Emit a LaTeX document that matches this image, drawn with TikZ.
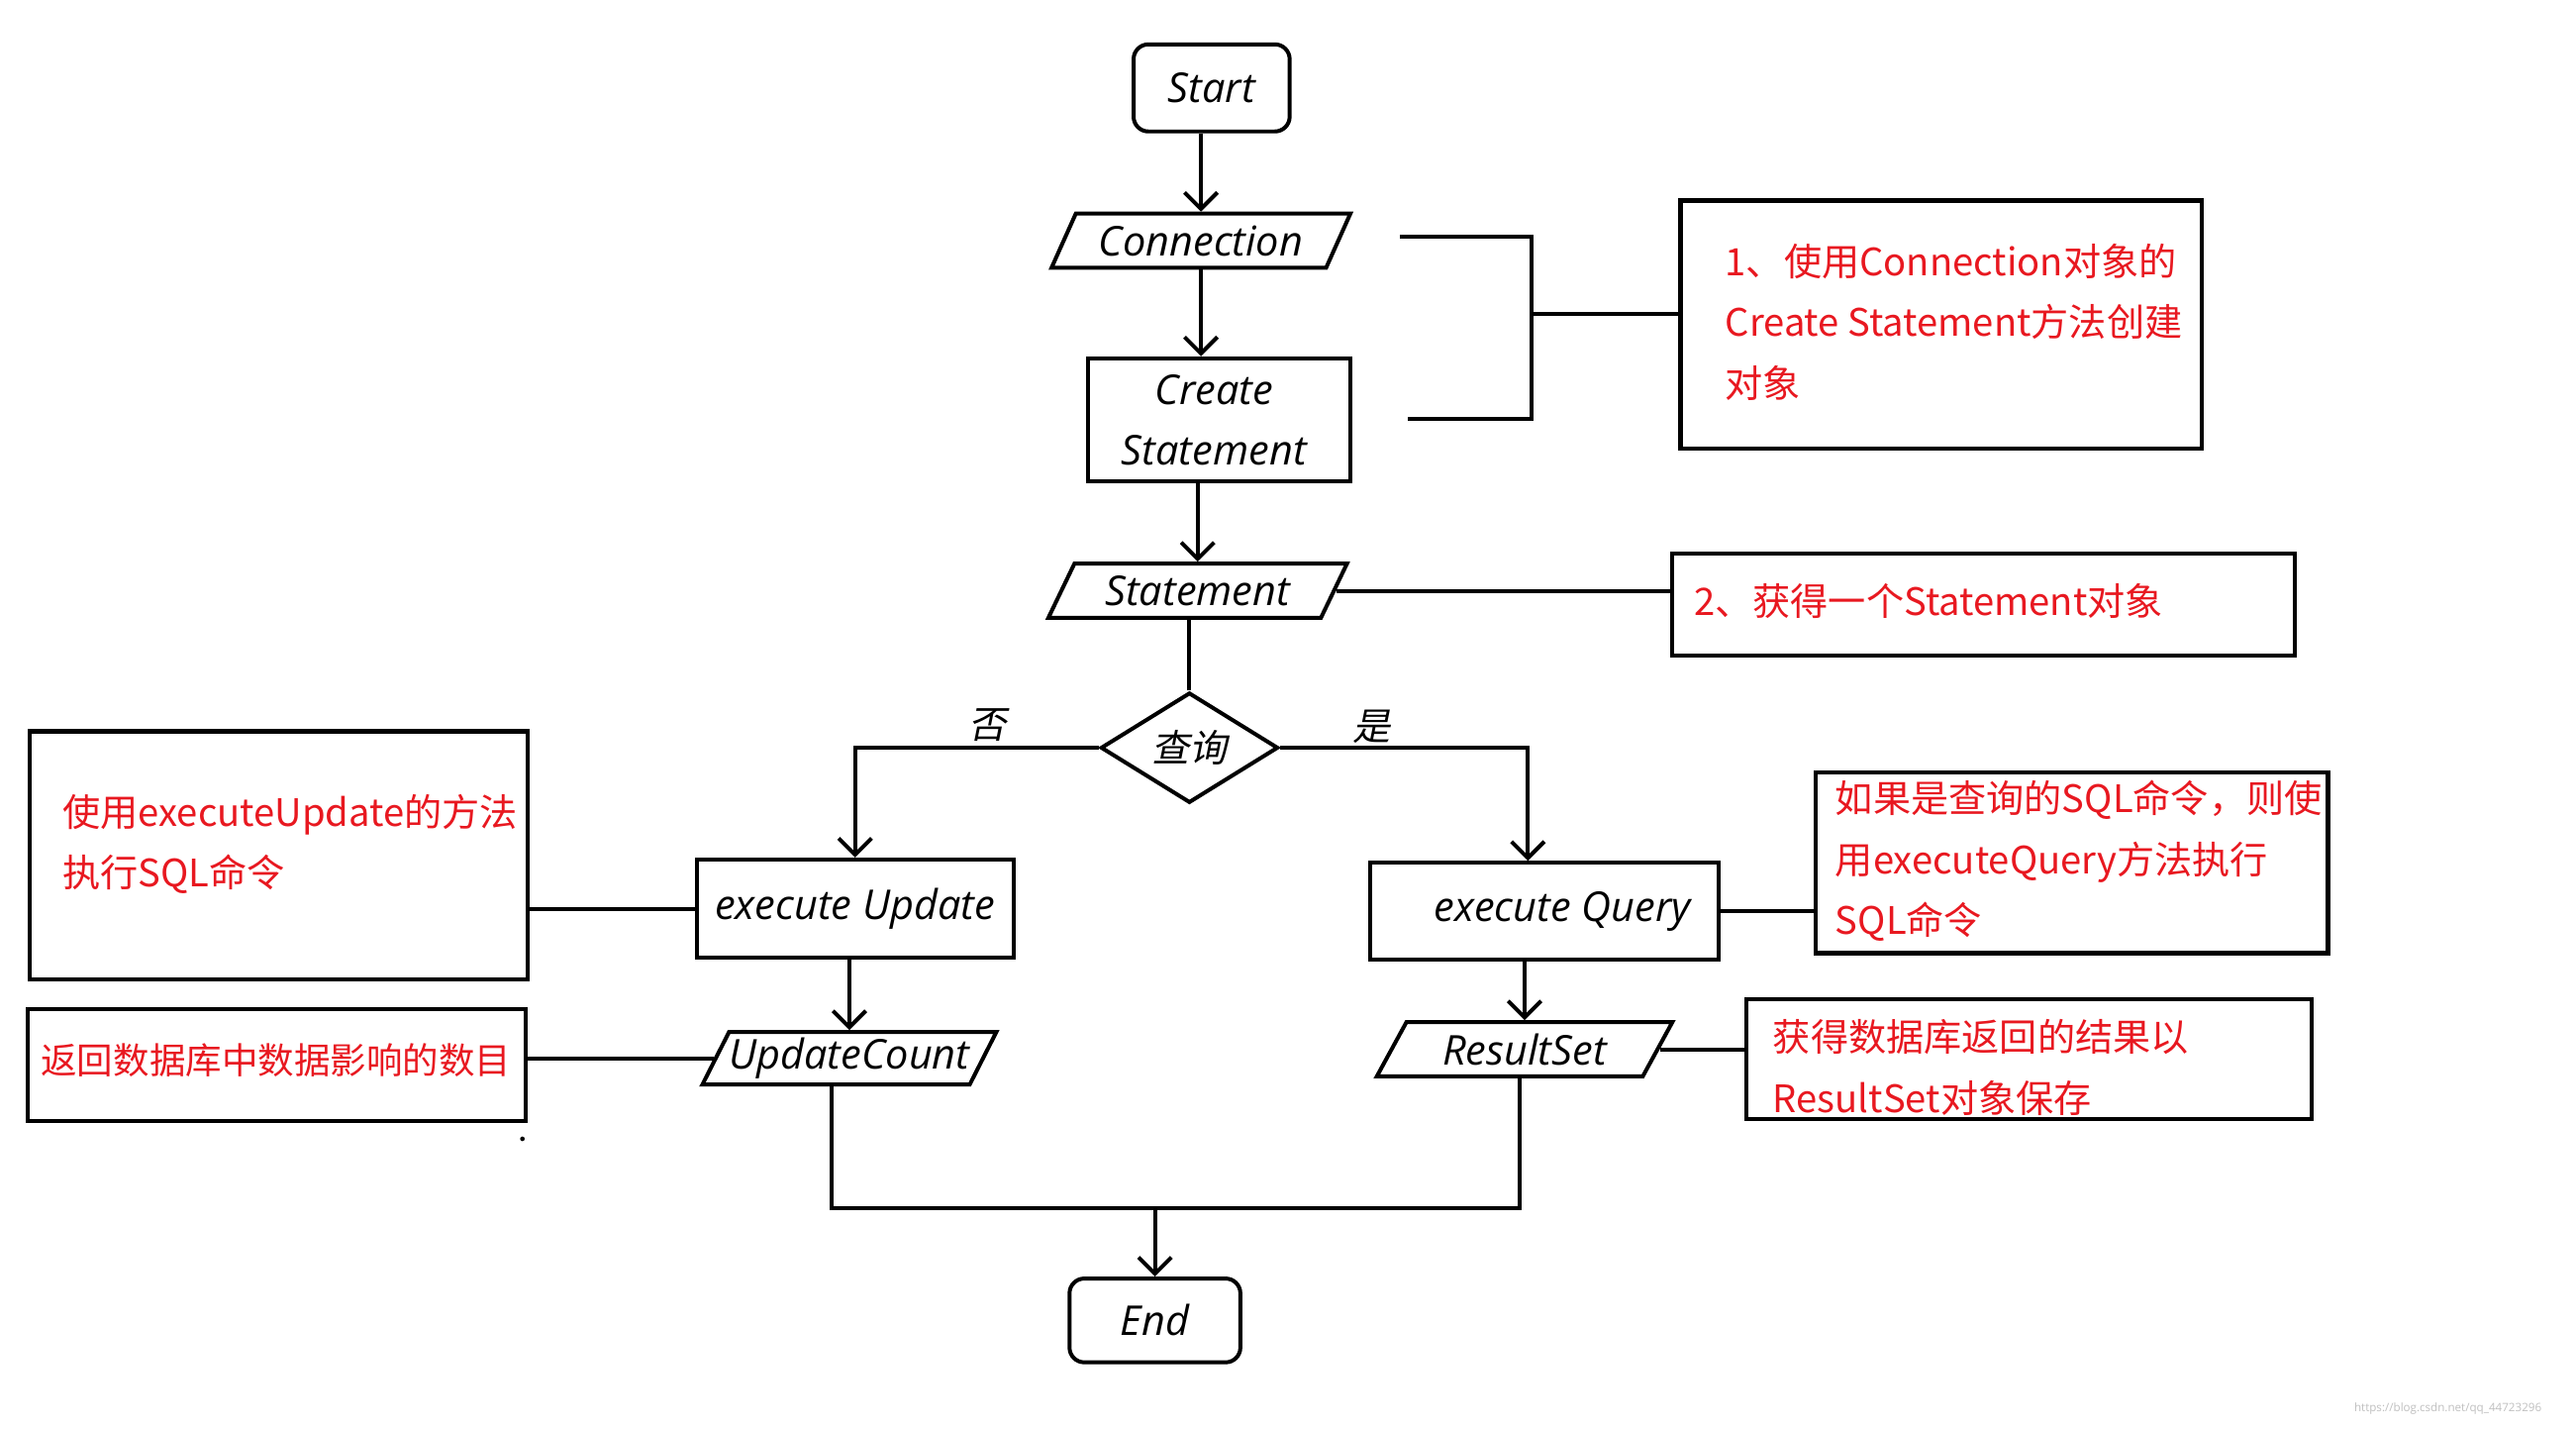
\documentclass[tikz,border=0pt]{standalone}
\usepackage{fontspec}
\setmainfont{Open Sans}
\newfontfamily\cjk{Noto Sans CJK SC}
\newfontfamily\cjksl[FakeSlant=0.2]{Noto Sans CJK SC}
\usetikzlibrary{shapes.geometric,arrows.meta}
\definecolor{redtxt}{RGB}{232,24,32}
\begin{document}
\begin{tikzpicture}[x=1pt,y=-1pt,
  ln/.style={line width=2.4pt},
  arr/.style={line width=2.4pt,-{Straight Barb[length=10pt,width=20pt]}},
  lab/.style={font=\itshape\fontsize{25}{37}\selectfont},
  term/.style={draw,line width=2.4pt,rounded corners=9pt,lab,inner sep=0pt},
  proc/.style={draw,rectangle,line width=2.4pt,lab,inner sep=0pt},
  io/.style={draw,trapezium,trapezium left angle=57,trapezium right angle=123,trapezium stretches=true,inner sep=0pt,line width=2.4pt,lab},
  dec/.style={draw,diamond,inner sep=0pt,line width=2.4pt},
  note/.style={draw,rectangle,line width=2.6pt,inner sep=0pt},
  rtxt/.style={text=redtxt,font=\cjk\fontsize{23}{37}\selectfont,align=left,anchor=west,inner sep=0pt},
  cjklab/.style={font=\cjksl\fontsize{23}{26}\selectfont,inner sep=0pt}
]
\useasboundingbox (0,0) rectangle (1568,869);

% main flow
\node[term,minimum width=95pt,minimum height=53pt] (Start) at (737.5,53.5) {Start};
\node[io,minimum width=182pt,minimum height=33pt] (Conn) at (731,146.5) {Connection};
\node[proc,minimum width=160pt,minimum height=75pt,align=center] (CS) at (742,255.5) {Create\hspace*{6pt}\\Statement\hspace*{6pt}};
\node[io,minimum width=182pt,minimum height=33pt] (Stm) at (729,359.5) {Statement};
\node[dec,minimum width=108pt,minimum height=64pt] (Q) at (724,455) {\cjksl\fontsize{23}{26}\selectfont 查询};
\node[proc,minimum width=193pt,minimum height=60pt] (EU) at (520.5,553) {execute Update};
\node[proc,minimum width=212pt,minimum height=59pt] (EQ) at (940,554.5) {\hspace*{22pt}execute Query};
\node[io,minimum width=178pt,minimum height=32pt] (UC) at (517,644) {UpdateCount};
\node[io,minimum width=180pt,minimum height=33pt] (RS) at (928,638.5) {ResultSet};
\node[term,minimum width=104pt,minimum height=51pt] (End) at (703,803.5) {End};

\node[cjklab] (no) at (601,441) {否};
\node[cjklab] (yes) at (835,442) {是};

% note boxes
\node[note,minimum width=317pt,minimum height=151pt] (B1) at (1181.5,197.5) {};
\node[rtxt] (T1) at (1050,196) {1、使用Connection对象的\\Create Statement方法创建\\对象};
\node[note,minimum width=379pt,minimum height=62pt] (B2) at (1207.5,368) {};
\node[rtxt] (T2) at (1031,366) {2、获得一个Statement对象};
\node[note,minimum width=312pt,minimum height=110pt] (B3) at (1261,525) {};
\node[rtxt] (T3) at (1117,524) {如果是查询的SQL命令，则使\\用executeQuery方法执行\\SQL命令};
\node[note,minimum width=344pt,minimum height=73pt] (B4) at (1235,644.5) {};
\node[rtxt] (T4) at (1079,649.5) {获得数据库返回的结果以\\ResultSet对象保存};
\node[note,minimum width=303pt,minimum height=151pt] (LB1) at (169.5,520.5) {};
\node[rtxt] (T5) at (38,513.5) {使用executeUpdate的方法\\执行SQL命令};
\node[note,minimum width=303pt,minimum height=68pt] (LB2) at (168.5,648) {};
\node[rtxt,anchor=center,font=\cjk\fontsize{22}{30}\selectfont] (T6) at (168,645) {返回数据库中数据影响的数目};

% connectors
\draw[arr] (Start.south -| Conn.north) -- (Conn.north);
\draw[arr] (Conn.south) -- (CS.north -| Conn.south);
\draw[arr] (CS.south -| Stm.north) -- (Stm.north);
\draw[ln] (Stm.south -| Q.north) -- (Q.north);
\draw[arr] (Q.west) -| (EU.north);
\draw[arr] (Q.east) -| ([xshift=-10pt]EQ.north);
\draw[arr] (EU.south -| UC.north) -- (UC.north);
\draw[arr] (EQ.south -| RS.north) -- (RS.north);
\coordinate (j1) at (506,735);
\coordinate (j2) at (925,735);
\draw[ln] (UC.south -| j1) -- (j1) -- (j2) -- (RS.south -| j2);
\draw[arr] (End.north |- j1) -- (End.north);

\draw[ln] (EU.west) -- (EU.west -| LB1.east);
\draw[ln] (UC.west) -- (UC.west -| LB2.east);
\draw[ln] (EQ.east) -- (EQ.east -| B3.west);
\draw[ln] (RS.east) -- (RS.east -| B4.west);
\draw[ln] (Stm.east) -- (Stm.east -| B2.west);

% bracket
\coordinate (ba) at (852,144);
\coordinate (bb) at (932,144);
\coordinate (bc) at (932,255);
\coordinate (bd) at (857,255);
\coordinate (bm) at (932,191);
\draw[ln] (ba) -- (bb) -- (bc) -- (bd);
\draw[ln] (bm) -- (bm -| B1.west);

% small artifacts
\node[circle,fill,inner sep=1pt] (dot) at (318,693) {};
\node[text=black!25,font=\fontsize{7}{8}\selectfont,inner sep=0pt] (wm) at (1490,857) {https://blog.csdn.net/qq\_44723296};
\end{tikzpicture}
\end{document}
